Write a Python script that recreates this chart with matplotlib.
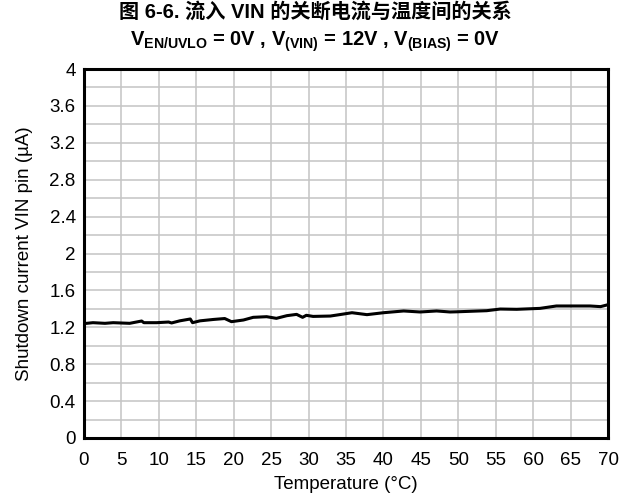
import matplotlib
matplotlib.use("Agg")
import matplotlib.pyplot as plt
import numpy as np

plt.rcParams['font.family'] = ['Liberation Sans', 'Noto Sans CJK SC', 'DejaVu Sans']
plt.rcParams['mathtext.fontset'] = 'custom'
plt.rcParams['mathtext.rm'] = 'Liberation Sans'
plt.rcParams['mathtext.bf'] = 'Liberation Sans:bold'

# shutdown current vs temperature
temp = [0, 1.2, 2.8, 3.9, 6.1, 7.7, 8.0, 9.7, 11.3, 11.7, 12.8, 14.2, 14.5, 15.5,
        17.3, 18.8, 19.7, 21.3, 22.6, 24.4, 25.7, 27.1, 28.4, 29.2, 29.7, 30.6,
        32.9, 33.8, 35.8, 37.8, 40.0, 42.7, 44.9, 47.1, 48.9, 49.8, 53.8, 55.6,
        57.8, 60.9, 63.1, 67.6, 69.0, 70.0]
current = [1.24, 1.25, 1.243, 1.25, 1.243, 1.268, 1.25, 1.25, 1.257, 1.247, 1.27, 1.29,
           1.25, 1.27, 1.285, 1.295, 1.261, 1.279, 1.308, 1.315, 1.297, 1.326, 1.34,
           1.308, 1.33, 1.318, 1.322, 1.333, 1.358, 1.337, 1.358, 1.377, 1.366, 1.377,
           1.366, 1.368, 1.38, 1.398, 1.395, 1.405, 1.431, 1.431, 1.424, 1.445]

xticks = np.arange(0, 71, 5)
yticks = [0, 0.4, 0.8, 1.2, 1.6, 2, 2.4, 2.8, 3.2, 3.6, 4]
ylabels = ['0', '0.4', '0.8', '1.2', '1.6', '2', '2.4', '2.8', '3.2', '3.6', '4']

fig = plt.figure(figsize=(6.31, 4.93), dpi=100)
ax = fig.add_axes([0.1331, 0.1116, 0.8305, 0.7484])

ax.plot(temp, current, color='black', lw=2.2, zorder=3)

ax.set_xlim(0, 70)
ax.set_ylim(0, 4)
ax.set_xticks(xticks)
ax.set_yticks(yticks)
ax.set_yticklabels(ylabels)
ax.set_yticks(np.arange(0, 4.01, 0.2), minor=True)
ax.grid(True, which='both', color='#c4c4c4', lw=1.1)
ax.tick_params(which='both', length=0, labelsize=13.5)
ax.tick_params(axis='x', pad=10)
ax.tick_params(axis='y', pad=6)
for s in ax.spines.values():
    s.set_linewidth(2.2)

ax.set_xlabel('Temperature (°C)', fontsize=13.5, labelpad=5)
ax.set_ylabel('Shutdown current VIN pin (µA)', fontsize=13.5, labelpad=12)

fig.text(0.5, 0.975, '图 6-6. 流入 VIN 的关断电流与温度间的关系',
         ha='center', va='center', fontsize=14.5, fontweight='bold')
fig.text(0.5, 0.916,
         r'V$_{\mathbf{EN/UVLO}}$ = 0V , V$_{\mathbf{(VIN)}}$ = 12V , V$_{\mathbf{(BIAS)}}$ = 0V',
         ha='center', va='center', fontsize=14.5, fontweight='bold')

fig.savefig('out.png', dpi=100)
